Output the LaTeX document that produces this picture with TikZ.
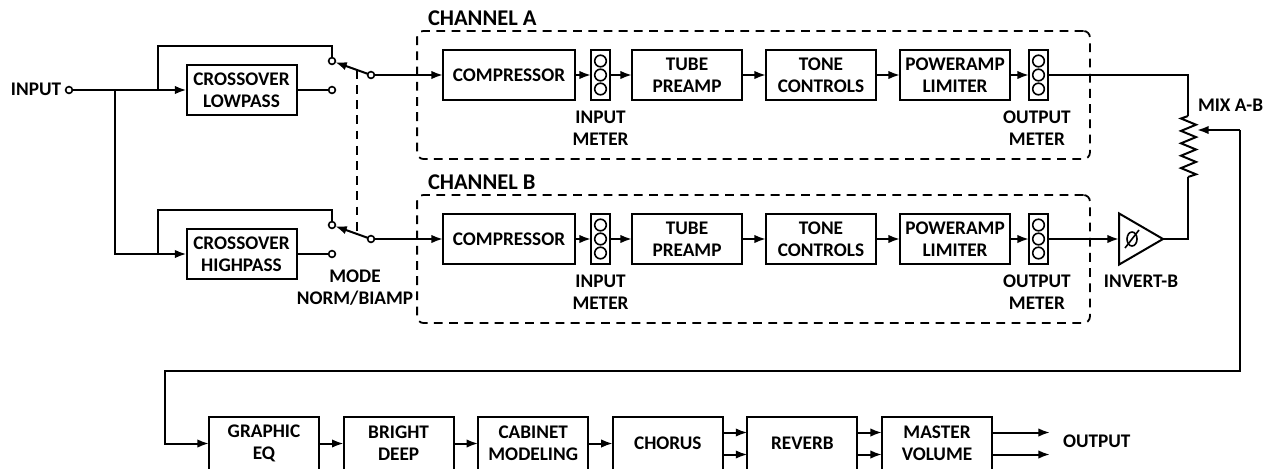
\documentclass[tikz,border=0pt]{standalone}
\usepackage{fontspec}
\setmainfont{Carlito}
\usetikzlibrary{arrows.meta,positioning,calc,shapes.geometric}
\tikzset{
  every node/.style = {font=\fontsize{13.7}{15.65}\selectfont\bfseries, outer sep=0pt},
  block/.style      = {draw, line width=0.5mm, minimum height=12.6mm, minimum width=27.5mm,
                       inner sep=0pt, align=center},
  chain/.style      = {block, minimum height=13.1mm},
  meter/.style      = {draw, line width=0.5mm, minimum height=12.6mm, minimum width=4.75mm, inner sep=0pt},
  lamp/.style       = {draw, line width=0.4mm, circle, minimum size=2.9mm, inner sep=0pt},
  term/.style       = {draw, line width=0.4mm, circle, fill=white, minimum size=1.7mm, inner sep=0pt},
  chan/.style       = {draw, line width=0.45mm, dash pattern=on 2.2mm off 1.6mm, rounded corners=1.6mm,
                       minimum width=168.2mm, minimum height=32mm},
  sig/.style        = {-{Latex[length=2.9mm,width=2.1mm]}, line width=0.5mm},
  wire/.style       = {line width=0.5mm},
  link/.style       = {line width=0.5mm, dash pattern=on 2.2mm off 1.6mm},
  lbl/.style        = {align=center, inner sep=0pt},
  amp/.style        = {draw, line width=0.5mm, isosceles triangle, isosceles triangle stretches,
                       minimum width=12.8mm, minimum height=11mm, inner sep=0pt},
}

\begin{document}
\begin{tikzpicture}[x=0.25mm, y=-0.25mm]
  \useasboundingbox (0,0) rectangle (1267,468);
  \node[term] (in) at (69,90) {};
  \node[lbl, anchor=west] at (11,89) {INPUT};
  \coordinate (split) at (115,90);
  % both channels
  \foreach \ch/\y/\xo in {A/75/LOWPASS, B/239/HIGHPASS} {
    \node[chan] (chan\ch) at (753.5,\y+20) {};
    \node[lbl, anchor=west, font=\fontsize{16}{18}\selectfont\bfseries] at (428,\y-57) {CHANNEL \ch};
    \node[block, minimum width=27.5mm] (xo\ch) at (241.5,\y+15) {CROSSOVER\\\xo};
    \coordinate (tap\ch) at (158,\y+15);
    \node[term] (up\ch) at (332,\y-14) {};
    \node[term] (dn\ch) at (332,\y+15) {};
    \coordinate (top\ch) at (332,\y-29);
    \node[term] (pole\ch) at (371,\y) {};
    \coordinate (arm\ch) at ($(pole\ch)!0.37!(up\ch)$);
    \draw[wire] (tap\ch) |- (top\ch) -- (up\ch);
    \draw[wire] (xo\ch) -- (dn\ch);
    \draw[sig] (pole\ch) -- (up\ch);
    \node[block, minimum width=33mm] (comp\ch) at (509,\y) {COMPRESSOR};
    \node[meter, right=4mm of comp\ch] (inm\ch) {};
    \node[block, right=5.5mm of inm\ch] (tube\ch) {TUBE\\PREAMP};
    \node[block, right=6mm of tube\ch] (tone\ch) {TONE\\CONTROLS};
    \node[block, right=6mm of tone\ch] (lim\ch) {POWERAMP\\LIMITER};
    \node[meter, right=4.75mm of lim\ch] (outm\ch) {};
    \foreach \m in {inm,outm} {
      \node[lamp] at ($(\m\ch)+(0,-14)$) {};
      \node[lamp] at (\m\ch) {};
      \node[lamp] at ($(\m\ch)+(0,14)$) {};
    }
    \node[lbl, below=2.7mm of inm\ch] {INPUT\\METER};
    \node[lbl, below=2.7mm of outm\ch, xshift=-0.4mm] {OUTPUT\\METER};
    \draw[sig] (pole\ch) -- (comp\ch);
    \draw[sig] (comp\ch) -- (inm\ch);
    \draw[sig] (inm\ch) -- (tube\ch);
    \draw[sig] (tube\ch) -- (tone\ch);
    \draw[sig] (tone\ch) -- (lim\ch);
    \draw[sig] (lim\ch) -- (outm\ch);
  }
  \draw[sig] (in) -- (xoA);
  \draw[sig] (split) |- (xoB);
  \draw[link] (armA) -- (armB);
  \node[lbl] at (355,288) {MODE\\NORM/BIAMP};
  % mix and invert
  \node[amp, anchor=west] (inv) at (1119,239) {};
  \node[lbl] at (1141,281) {INVERT-B};
  \draw[line width=0.4mm] (1132,239) ellipse (5 and 7);
  \draw[line width=0.4mm] (1125,248) -- (1139,230);
  \coordinate (potA) at (1188,116);
  \coordinate (potB) at (1188,177);
  \coordinate (wiper) at (1197,130);
  \coordinate (feedA) at (1240,130);
  \coordinate (feedB) at (1240,371);
  \coordinate (feedC) at (165,371);
  \node[lbl, anchor=west] at (1198,105) {MIX A-B};
  \draw[wire] (potA) -- ++(-7,2.5) \foreach \i in {1,...,4} { -- ++(15,6.2) -- ++(-15,6.2) } -- ++(15,6.2) -- (potB);
  \draw[wire] (outmA) -| (potA);
  \draw[sig] (outmB) -- (inv);
  \draw[wire] (inv.east) -| (potB);
  % output chain
  \node[chain] (geq) at (264,443.5) {GRAPHIC\\EQ};
  \node[chain, right=6.15mm of geq] (bright) {BRIGHT\\DEEP};
  \node[chain, right=6.15mm of bright] (cab) {CABINET\\MODELING};
  \node[chain, right=6.15mm of cab] (chorus) {CHORUS};
  \node[chain, right=6.15mm of chorus] (reverb) {REVERB};
  \node[chain, right=6.15mm of reverb] (master) {MASTER\\VOLUME};
  \node[lbl, anchor=west] at (1063,441) {OUTPUT};
  \draw[sig] (feedA) -- (wiper);
  \draw[sig] (feedA) -- (feedB) -- (feedC) |- (geq);
  \draw[sig] (geq) -- (bright);
  \draw[sig] (bright) -- (cab);
  \draw[sig] (cab) -- (chorus);
  \foreach \dy in {-11,11} {
    \draw[sig] ($(chorus.east)+(0,\dy)$) -- ($(reverb.west)+(0,\dy)$);
    \draw[sig] ($(reverb.east)+(0,\dy)$) -- ($(master.west)+(0,\dy)$);
    \draw[sig] ($(master.east)+(0,\dy)$) -- ($(master.east)+(58,\dy)$);
  }
\end{tikzpicture}
\end{document}
